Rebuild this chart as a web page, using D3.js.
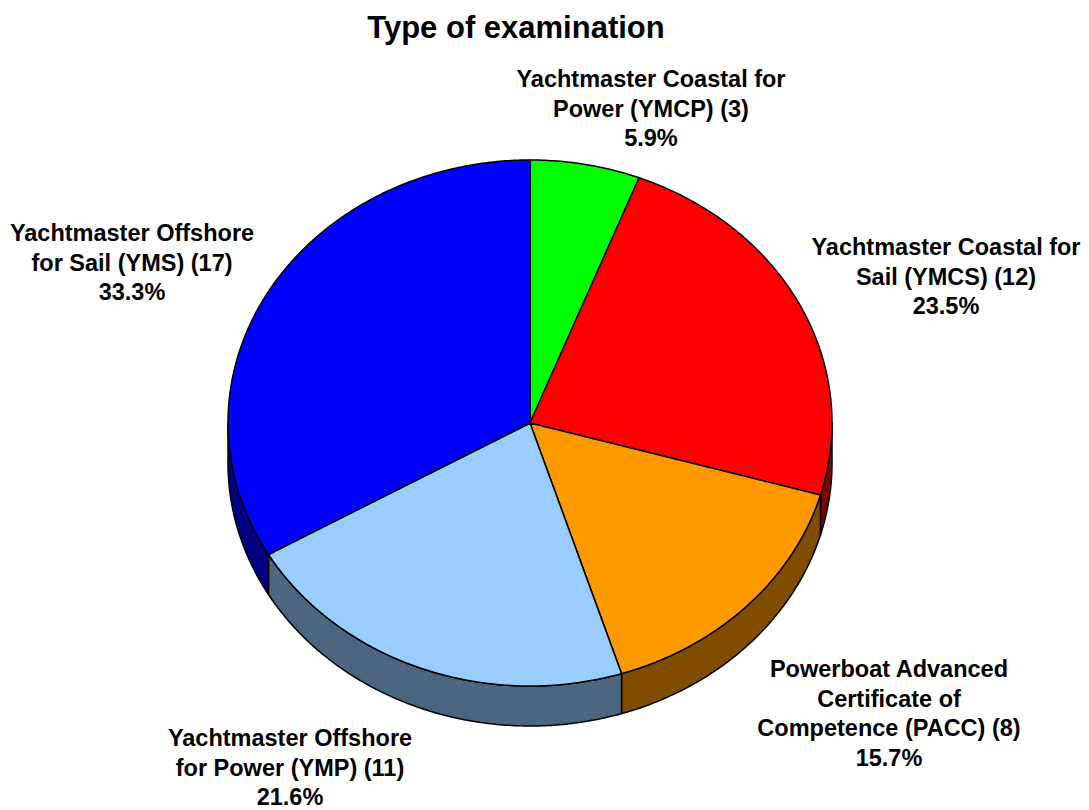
<!DOCTYPE html>
<html>
<head>
<meta charset="utf-8">
<script src="https://cdn.jsdelivr.net/npm/d3@7"></script>
<style>
  body { margin: 0; background: #fff; }
  svg { display: block; font-family: "Liberation Sans", Arial, sans-serif; }
</style>
</head>
<body>
<svg id="chart"></svg>
<script>
// data
const categoryLines = [
  ['Yachtmaster Coastal for', 'Power (YMCP)'],
  ['Yachtmaster Coastal for', 'Sail (YMCS)'],
  ['Powerboat Advanced', 'Certificate of', 'Competence (PACC)'],
  ['Yachtmaster Offshore', 'for Power (YMP)'],
  ['Yachtmaster Offshore', 'for Sail (YMS)']
];
const counts = [3, 12, 8, 11, 17];
const topColours = ['#00FF00', '#FF0000', '#FF9900', '#99CCFF', '#0000FF'];
const sideColours = ['#008000', '#800000', '#804C00', '#4C6680', '#000080'];

// label anchors (centre x, first line centre y)
const labelPos = [[651, 79], [946, 247], [889, 669], [290, 738], [132, 233]];

const width = 1089, height = 810;
const cx = 530, cy = 423, rx = 302, ry = 263, depth = 40;
const lineH = 29.5;

const svg = d3.select('#chart').attr('width', width).attr('height', height);

const total = d3.sum(counts);
const pie = d3.pie().sort(null).value(d => d);
const slices = pie(counts);

// point on the ellipse, angle clockwise from 12 o'clock
function pt(a, dy = 0) {
  return [cx + rx * Math.sin(a), cy - ry * Math.cos(a) + dy];
}
function arcPts(a0, a1, dy = 0) {
  const n = Math.max(2, Math.ceil(Math.abs(a1 - a0) / 0.01));
  return d3.range(n + 1).map(i => pt(a0 + (a1 - a0) * i / n, dy));
}
const line = d3.line();

// side walls (front half only)
const sides = svg.append('g');
slices.forEach((s, i) => {
  const a0 = Math.max(s.startAngle, Math.PI / 2);
  const a1 = Math.min(s.endAngle, Math.PI * 3 / 2);
  if (a1 <= a0) return;
  const pts = arcPts(a0, a1).concat(arcPts(a1, a0, depth));
  sides.append('path')
    .attr('d', line(pts) + 'Z')
    .attr('fill', sideColours[i])
    .attr('stroke', '#000')
    .attr('stroke-width', 1.5)
    .attr('stroke-linejoin', 'round');
});

// top faces
const tops = svg.append('g');
slices.forEach((s, i) => {
  const pts = [[cx, cy]].concat(arcPts(s.startAngle, s.endAngle));
  tops.append('path')
    .attr('d', line(pts) + 'Z')
    .attr('fill', topColours[i])
    .attr('stroke', '#000')
    .attr('stroke-width', 1.5)
    .attr('stroke-linejoin', 'round');
});

// title
svg.append('text')
  .attr('x', 516)
  .attr('y', 27)
  .attr('dy', '0.35em')
  .attr('text-anchor', 'middle')
  .attr('font-weight', 'bold')
  .attr('font-size', 31)
  .text('Type of examination');

// labels
const labels = svg.append('g')
  .attr('font-weight', 'bold')
  .attr('font-size', 23.5)
  .attr('text-anchor', 'middle');
slices.forEach((s, i) => {
  const lines = categoryLines[i].slice();
  lines[lines.length - 1] += ' (' + counts[i] + ')';
  lines.push(d3.format('.1%')(counts[i] / total));
  const t = labels.append('text');
  lines.forEach((l, j) => {
    t.append('tspan')
      .attr('x', labelPos[i][0])
      .attr('y', labelPos[i][1] + j * lineH)
      .attr('dy', '0.35em')
      .text(l);
  });
});
</script>
</body>
</html>
